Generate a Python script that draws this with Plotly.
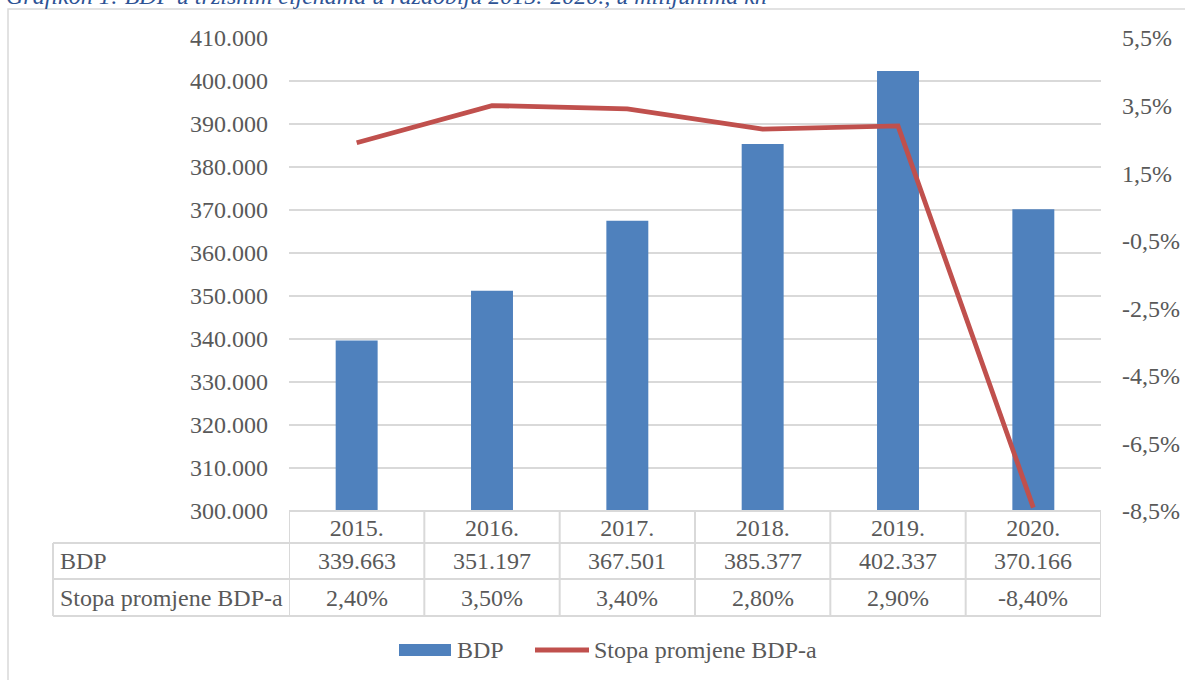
import plotly.graph_objects as go

# ---- data ----
years = ["2015.", "2016.", "2017.", "2018.", "2019.", "2020."]
bdp = [339663, 351197, 367501, 385377, 402337, 370166]
stopa = [2.4, 3.5, 3.4, 2.8, 2.9, -8.4]
series_names = ["BDP", "Stopa promjene BDP-a"]
right_ticks = [5.5, 3.5, 1.5, -0.5, -2.5, -4.5, -6.5, -8.5]
title_text = "Grafikon 1: BDP u tržišnim cijenama u razdoblju 2015.-2020., u milijunima kn"

# ---- layout geometry (pixels) ----
W, H = 1185, 680
PL, PR, PT, PB = 289, 1101, 38, 511
FONT = "Liberation Serif"
GRAY = "#595959"
LINEC = "#D9D9D9"
BLUE = "#4F81BD"
RED = "#C0504D"


def px(xp):
    return (xp - PL) / (PR - PL)


def py(yp):
    return (PB - yp) / (PB - PT)


idx = list(range(len(years)))

fig = go.Figure()
fig.add_trace(go.Bar(x=idx, y=bdp, name=series_names[0], marker_color=BLUE,
                     marker_line_width=0, showlegend=False))
fig.add_trace(go.Scatter(x=idx, y=stopa, name=series_names[1], yaxis="y2",
                         mode="lines", line=dict(color=RED, width=4.8),
                         showlegend=False))

shapes = []
annotations = []

# chart border
shapes.append(dict(type="rect", xref="paper", yref="paper",
                   x0=px(8), x1=px(1195), y0=py(695), y1=py(9),
                   line=dict(color=LINEC, width=1.5), layer="below"))

# data table
row_y = [511, 543, 579, 616]
for i in range(len(years) + 1):
    shapes.append(dict(type="line", xref="x", yref="paper", x0=i - 0.5, x1=i - 0.5,
                       y0=py(511), y1=py(616), line=dict(color=LINEC, width=2)))
shapes.append(dict(type="line", xref="paper", yref="paper", x0=px(53), x1=px(53),
                   y0=py(543), y1=py(616), line=dict(color=LINEC, width=2)))
for k, yy in enumerate(row_y):
    x0 = px(53) if k > 0 else 0
    shapes.append(dict(type="line", xref="paper", yref="paper", x0=x0, x1=1,
                       y0=py(yy), y1=py(yy), line=dict(color=LINEC, width=2)))

fnt = dict(family=FONT, size=24, color=GRAY)
row_vals = [[f"{v:,}".replace(",", ".") for v in bdp],
            [f"{v:.2f}%".replace(".", ",") for v in stopa]]
for r, (lab, vals) in enumerate(zip(series_names, row_vals)):
    yc = py((row_y[r + 1] + row_y[r + 2]) / 2)
    annotations.append(dict(text=lab, xref="paper", yref="paper", x=px(58), y=yc,
                            xanchor="left", yanchor="middle", showarrow=False, font=fnt))
    for i, v in enumerate(vals):
        annotations.append(dict(text=v, xref="x", yref="paper", x=i, y=yc,
                                xanchor="center", yanchor="middle", showarrow=False, font=fnt))

# custom legend
leg_y = py(650)
shapes.append(dict(type="rect", xref="paper", yref="paper", x0=px(399), x1=px(451),
                   y0=py(656), y1=py(644), fillcolor=BLUE, line=dict(width=0)))
annotations.append(dict(text=series_names[0], xref="paper", yref="paper", x=px(455), y=leg_y,
                        xanchor="left", yanchor="middle", showarrow=False, font=fnt))
shapes.append(dict(type="line", xref="paper", yref="paper", x0=px(535), x1=px(589),
                   y0=leg_y, y1=leg_y, line=dict(color=RED, width=4.8)))
annotations.append(dict(text=series_names[1], xref="paper", yref="paper", x=px(592), y=leg_y,
                        xanchor="left", yanchor="middle", showarrow=False, font=fnt))

# title (cut off at top like the reference)
annotations.append(dict(text=f"<i>{title_text}</i>", xref="paper", yref="paper",
                        x=px(4), y=py(11), xanchor="left", yanchor="bottom",
                        showarrow=False,
                        font=dict(family=FONT, size=24, color="#2E5395")))

fig.update_layout(
    width=W, height=H,
    margin=dict(l=PL, r=W - PR, t=PT, b=H - PB, pad=0),
    paper_bgcolor="white", plot_bgcolor="white",
    separators=",.",
    bargap=0.69,
    font=fnt,
    showlegend=False,
    shapes=shapes,
    annotations=annotations,
    xaxis=dict(range=[-0.5, len(years) - 0.5], tickmode="array", tickvals=idx,
               ticktext=years, showgrid=False, showline=False, zeroline=False,
               ticks="", tickfont=fnt, ticklabelstandoff=0, automargin=False),
    yaxis=dict(range=[300000, 410000], dtick=10000, tick0=300000, tickformat=",.0f",
               showgrid=True, gridcolor=LINEC, gridwidth=1.5, zeroline=False,
               showline=False, ticks="", tickfont=fnt, ticklabelstandoff=20,
               automargin=False),
    yaxis2=dict(range=[-8.5, 5.5], tickmode="array", tickvals=right_ticks,
                ticktext=[f"{t:.1f}%".replace(".", ",") for t in right_ticks],
                overlaying="y", side="right", showgrid=False, zeroline=False,
                showline=False, ticks="", tickfont=fnt, ticklabelstandoff=20,
                automargin=False),
)

fig.write_html("out.html", post_script="document.body.style.margin='0';",
               config={"displayModeBar": False})
